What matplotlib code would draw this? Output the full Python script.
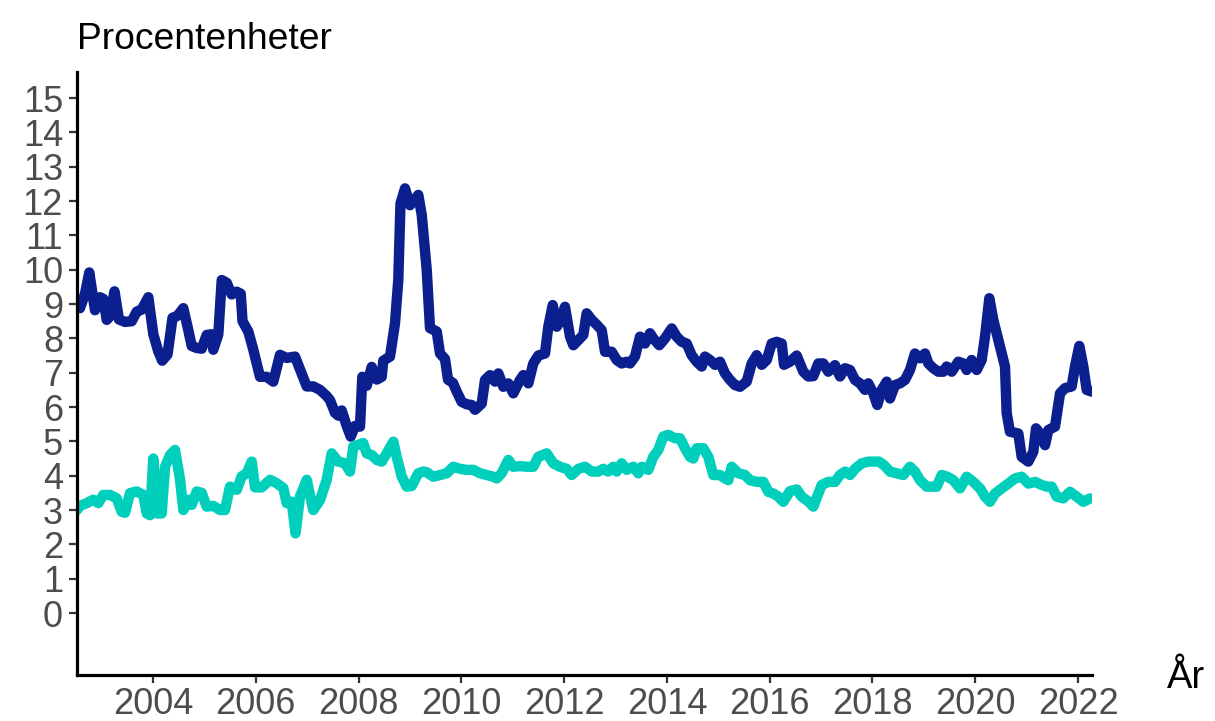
import matplotlib
matplotlib.use("Agg")
import matplotlib.pyplot as plt

plt.rcParams['font.family'] = ['Liberation Sans', 'DejaVu Sans']

# ---- data ----
blue_years = [2002.521, 2002.579, 2002.677, 2002.760, 2002.871, 2002.969, 2003.033, 2003.099, 2003.163, 2003.251,
              2003.338, 2003.455, 2003.586, 2003.683, 2003.780, 2003.909, 2004.006, 2004.103, 2004.179, 2004.282,
              2004.380, 2004.477, 2004.590, 2004.687, 2004.753, 2004.850, 2004.948, 2005.045, 2005.142, 2005.173,
              2005.271, 2005.337, 2005.434, 2005.531, 2005.629, 2005.707, 2005.742, 2005.854, 2005.952, 2006.082,
              2006.212, 2006.341, 2006.471, 2006.602, 2006.763, 2006.860, 2006.991, 2007.119, 2007.250, 2007.380,
              2007.444, 2007.542, 2007.606, 2007.672, 2007.769, 2007.847, 2007.931, 2008.028, 2008.073, 2008.158,
              2008.256, 2008.353, 2008.450, 2008.481, 2008.612, 2008.709, 2008.773, 2008.816, 2008.904, 2009.001,
              2009.162, 2009.229, 2009.326, 2009.390, 2009.521, 2009.585, 2009.682, 2009.740, 2009.838, 2009.910,
              2010.007, 2010.104, 2010.202, 2010.266, 2010.396, 2010.461, 2010.558, 2010.655, 2010.720, 2010.817,
              2010.914, 2011.011, 2011.142, 2011.206, 2011.303, 2011.400, 2011.498, 2011.628, 2011.692, 2011.778,
              2011.856, 2011.920, 2012.017, 2012.115, 2012.179, 2012.276, 2012.373, 2012.439, 2012.537, 2012.634,
              2012.731, 2012.796, 2012.926, 2013.023, 2013.120, 2013.218, 2013.282, 2013.379, 2013.477, 2013.574,
              2013.671, 2013.735, 2013.852, 2013.963, 2014.093, 2014.190, 2014.288, 2014.385, 2014.482, 2014.579,
              2014.677, 2014.741, 2014.838, 2014.936, 2015.033, 2015.130, 2015.228, 2015.325, 2015.422, 2015.553,
              2015.650, 2015.747, 2015.845, 2015.942, 2016.039, 2016.137, 2016.234, 2016.279, 2016.395, 2016.526,
              2016.654, 2016.751, 2016.849, 2016.946, 2017.043, 2017.140, 2017.271, 2017.368, 2017.466, 2017.563,
              2017.660, 2017.758, 2017.855, 2017.919, 2018.016, 2018.094, 2018.180, 2018.277, 2018.341, 2018.438,
              2018.536, 2018.633, 2018.730, 2018.827, 2018.925, 2019.022, 2019.087, 2019.184, 2019.281, 2019.378,
              2019.444, 2019.542, 2019.670, 2019.767, 2019.833, 2019.930, 2020.028, 2020.125, 2020.190, 2020.274,
              2020.351, 2020.449, 2020.579, 2020.612, 2020.676, 2020.838, 2020.904, 2021.033, 2021.130, 2021.183,
              2021.260, 2021.358, 2021.422, 2021.552, 2021.650, 2021.747, 2021.877, 2021.941, 2022.025, 2022.103,
              2022.169, 2022.266]
blue_values = [9.00, 8.88, 9.30, 9.92, 8.82, 9.20, 9.15, 8.54, 8.64, 9.37,
               8.55, 8.48, 8.50, 8.78, 8.84, 9.20, 8.12, 7.62, 7.35, 7.53,
               8.60, 8.66, 8.88, 8.24, 7.78, 7.72, 7.70, 8.10, 8.12, 7.67,
               8.12, 9.70, 9.62, 9.28, 9.36, 9.30, 8.50, 8.20, 7.67, 6.88,
               6.88, 6.74, 7.52, 7.43, 7.47, 7.10, 6.60, 6.60, 6.50, 6.32,
               6.20, 5.83, 5.75, 5.90, 5.45, 5.14, 5.45, 5.43, 6.88, 6.62,
               7.17, 6.80, 6.88, 7.35, 7.47, 8.44, 9.70, 11.93, 12.37, 11.88,
               12.18, 11.60, 10.00, 8.30, 8.20, 7.56, 7.40, 6.80, 6.70, 6.45,
               6.15, 6.08, 6.06, 5.92, 6.10, 6.79, 6.93, 6.74, 6.98, 6.59,
               6.69, 6.40, 6.79, 6.93, 6.69, 7.27, 7.50, 7.56, 8.34, 8.97,
               8.34, 8.49, 8.92, 8.05, 7.80, 7.95, 8.10, 8.73, 8.54, 8.40,
               8.24, 7.61, 7.61, 7.37, 7.27, 7.32, 7.27, 7.47, 8.05, 7.85,
               8.15, 8.00, 7.80, 8.00, 8.29, 8.05, 7.90, 7.85, 7.51, 7.32,
               7.18, 7.47, 7.37, 7.23, 7.32, 6.98, 6.79, 6.64, 6.59, 6.74,
               7.27, 7.51, 7.23, 7.37, 7.85, 7.90, 7.85, 7.23, 7.32, 7.50,
               7.03, 6.89, 6.90, 7.27, 7.27, 7.03, 7.22, 6.89, 7.13, 7.08,
               6.79, 6.69, 6.50, 6.69, 6.40, 6.06, 6.50, 6.74, 6.25, 6.64,
               6.69, 6.79, 7.08, 7.56, 7.42, 7.56, 7.27, 7.13, 7.03, 7.03,
               7.18, 7.03, 7.32, 7.27, 7.08, 7.37, 7.08, 7.37, 8.05, 9.17,
               8.54, 7.95, 7.18, 5.82, 5.28, 5.23, 4.55, 4.41, 4.70, 5.38,
               5.23, 4.89, 5.33, 5.43, 6.40, 6.55, 6.60, 7.18, 7.78, 7.18,
               6.50, 6.45]

green_years = [2002.521, 2002.579, 2002.710, 2002.838, 2002.936, 2003.033, 2003.163, 2003.294, 2003.391, 2003.455,
               2003.552, 2003.683, 2003.811, 2003.877, 2003.942, 2004.006, 2004.084, 2004.169, 2004.234, 2004.331,
               2004.428, 2004.525, 2004.590, 2004.687, 2004.753, 2004.850, 2004.948, 2005.045, 2005.173, 2005.304,
               2005.401, 2005.498, 2005.629, 2005.726, 2005.823, 2005.921, 2005.985, 2006.115, 2006.277, 2006.407,
               2006.536, 2006.602, 2006.699, 2006.773, 2006.860, 2006.991, 2007.119, 2007.250, 2007.380, 2007.477,
               2007.606, 2007.736, 2007.833, 2007.898, 2007.995, 2008.092, 2008.158, 2008.256, 2008.353, 2008.450,
               2008.548, 2008.676, 2008.742, 2008.839, 2008.937, 2009.034, 2009.162, 2009.260, 2009.326, 2009.454,
               2009.585, 2009.715, 2009.844, 2009.974, 2010.104, 2010.233, 2010.363, 2010.493, 2010.622, 2010.688,
               2010.785, 2010.914, 2011.011, 2011.142, 2011.272, 2011.400, 2011.498, 2011.661, 2011.790, 2011.920,
               2012.050, 2012.147, 2012.276, 2012.406, 2012.537, 2012.664, 2012.762, 2012.859, 2012.957, 2013.023,
               2013.120, 2013.218, 2013.346, 2013.444, 2013.509, 2013.638, 2013.735, 2013.833, 2013.930, 2014.028,
               2014.158, 2014.255, 2014.352, 2014.450, 2014.514, 2014.580, 2014.708, 2014.806, 2014.903, 2015.033,
               2015.130, 2015.195, 2015.261, 2015.389, 2015.519, 2015.617, 2015.747, 2015.876, 2015.973, 2016.071,
               2016.168, 2016.265, 2016.395, 2016.526, 2016.623, 2016.751, 2016.849, 2016.946, 2017.012, 2017.140,
               2017.271, 2017.368, 2017.466, 2017.563, 2017.660, 2017.790, 2017.919, 2018.028, 2018.126, 2018.223,
               2018.341, 2018.471, 2018.600, 2018.730, 2018.827, 2018.925, 2019.055, 2019.153, 2019.250, 2019.347,
               2019.444, 2019.573, 2019.703, 2019.833, 2019.962, 2020.093, 2020.190, 2020.287, 2020.385, 2020.515,
               2020.643, 2020.774, 2020.904, 2021.033, 2021.163, 2021.293, 2021.391, 2021.488, 2021.585, 2021.713,
               2021.844, 2021.974, 2022.103, 2022.233]
green_values = [3.00, 3.12, 3.20, 3.30, 3.20, 3.44, 3.44, 3.34, 2.95, 2.92,
                3.49, 3.54, 3.44, 2.90, 2.85, 4.50, 2.90, 2.90, 4.26, 4.60,
                4.75, 3.90, 3.00, 3.30, 3.15, 3.54, 3.50, 3.10, 3.12, 3.00,
                3.00, 3.68, 3.59, 3.98, 4.07, 4.41, 3.66, 3.66, 3.88, 3.78,
                3.64, 3.20, 3.24, 2.32, 3.39, 3.88, 3.00, 3.29, 3.88, 4.65,
                4.41, 4.36, 4.12, 4.85, 4.90, 4.95, 4.65, 4.60, 4.46, 4.41,
                4.65, 4.99, 4.55, 3.98, 3.68, 3.70, 4.07, 4.12, 4.10, 3.97,
                4.02, 4.07, 4.26, 4.20, 4.17, 4.17, 4.07, 4.02, 3.97, 3.92,
                4.07, 4.46, 4.26, 4.28, 4.26, 4.26, 4.55, 4.65, 4.36, 4.26,
                4.20, 4.02, 4.20, 4.26, 4.12, 4.12, 4.20, 4.12, 4.26, 4.12,
                4.36, 4.17, 4.26, 4.07, 4.26, 4.17, 4.55, 4.75, 5.14, 5.19,
                5.09, 5.09, 4.80, 4.55, 4.50, 4.80, 4.80, 4.55, 4.02, 4.02,
                3.92, 3.87, 4.26, 4.07, 4.02, 3.87, 3.82, 3.82, 3.53, 3.48,
                3.39, 3.24, 3.55, 3.60, 3.39, 3.25, 3.10, 3.48, 3.73, 3.82,
                3.82, 4.02, 4.12, 4.02, 4.20, 4.36, 4.41, 4.41, 4.41, 4.31,
                4.12, 4.07, 4.02, 4.26, 4.12, 3.87, 3.68, 3.68, 3.68, 4.02,
                3.98, 3.87, 3.63, 3.97, 3.82, 3.63, 3.39, 3.24, 3.48, 3.63,
                3.77, 3.92, 3.97, 3.77, 3.82, 3.73, 3.68, 3.68, 3.39, 3.34,
                3.53, 3.39, 3.24, 3.34]

x_ticks = [2004, 2006, 2008, 2010, 2012, 2014, 2016, 2018, 2020, 2022]
y_ticks = list(range(0, 16))
title_text = "Procentenheter"
x_label_text = "År"

blue_color = "#0b1f8f"
green_color = "#00cfbc"

# ---- figure ----
W, H = 1215, 721
fig = plt.figure(figsize=(W / 100, H / 100), dpi=100)
ax = fig.add_axes([77 / W, 1 - 675 / H, (1092 - 77) / W, (675 - 72) / H])

line_kw = dict(linewidth=7.5, solid_joinstyle='round', solid_capstyle='round')
ax.plot(blue_years, blue_values, color=blue_color, **line_kw)
ax.plot(green_years, green_values, color=green_color, **line_kw)

ax.set_xlim(2002.521, 2022.272)
ax.set_ylim(-1.806, 15.76)

ax.set_xticks(x_ticks)
ax.set_xticklabels([str(t) for t in x_ticks])
ax.set_yticks(y_ticks)
ax.set_yticklabels([str(t) for t in y_ticks])

for side in ("top", "right"):
    ax.spines[side].set_visible(False)
for side in ("left", "bottom"):
    ax.spines[side].set_linewidth(2.3)
    ax.spines[side].set_color("black")

ax.tick_params(axis="both", which="major", length=6, width=1.6, color="#333333",
               labelsize=26, labelcolor="#4d4d4d")
ax.tick_params(axis="x", pad=3)
ax.tick_params(axis="y", pad=4)

fig.text(77 / W, 1 - 49 / H, title_text, ha="left", va="baseline", fontsize=26.8, color="black")
fig.text(1167 / W, 1 - 688 / H, x_label_text, ha="left", va="baseline", fontsize=27.5, color="black")

fig.savefig("out.png", dpi=100)
